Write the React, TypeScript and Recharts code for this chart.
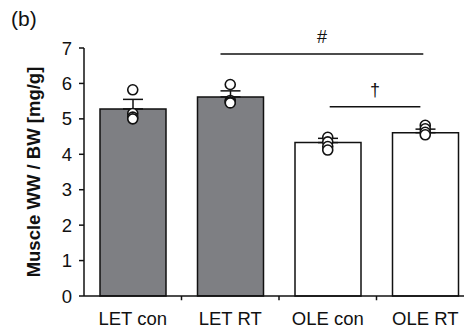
import React from 'react';
import {
  ComposedChart,
  Bar,
  Scatter,
  ErrorBar,
  XAxis,
  YAxis,
  ReferenceLine,
} from 'recharts';

const groups = ['LET con', 'LET RT', 'OLE con', 'OLE RT'];
const groupPos = [0.5, 1.5, 2.5, 3.5];
const means = [5.28, 5.62, 4.33, 4.61];
const errors = [0.27, 0.17, 0.12, 0.1];
const points1 = [5.82, 5.97, 4.48, 4.82];
const points2 = [5.15, 5.52, 4.35, 4.72];
const points3 = [5.05, 5.48, 4.22, 4.62];
const points4 = [5.0, 5.45, 4.12, 4.55];
const barColors = ['#7e7f83', '#7e7f83', '#ffffff', '#ffffff'];
const yTicks = [0, 1, 2, 3, 4, 5, 6, 7];
const groupEdges = [1, 2, 3];

const data = groups.map((name, i) => ({
  name,
  x: groupPos[i],
  mean: means[i],
  err: [0, errors[i]],
  p1: points1[i],
  p2: points2[i],
  p3: points3[i],
  p4: points4[i],
  fill: barColors[i],
}));

const FONT = '"Liberation Sans", Arial, sans-serif';
const FS = 18.5;

const Dot = (props: any) => {
  const { cx, cy } = props;
  if (cx == null || cy == null) return null;
  return <circle cx={cx} cy={cy} r={5} fill="#ffffff" stroke="#111111" strokeWidth={1.6} />;
};

export default function App() {
  return (
    <div style={{ position: 'relative', width: 464, height: 327, overflow: 'hidden', fontFamily: FONT }}>
      <div style={{ position: 'absolute', left: 3, top: 0, fontSize: 21, lineHeight: 1, color: '#111' }}>(b)</div>
      <ComposedChart
        width={470}
        height={327}
        data={data}
        margin={{ top: 40, right: 4, bottom: 9, left: 8 }}
      >
        <XAxis
          dataKey="x"
          type="number"
          domain={[0, 4]}
          ticks={groupPos}
          tickFormatter={(v: number) => groups[groupPos.indexOf(v)] ?? ''}
          tickLine={false}
          tickSize={0}
          tickMargin={16}
          axisLine={{ stroke: '#111', strokeWidth: 1.5 }}
          tick={{ fill: '#111', fontSize: FS, fontFamily: FONT }}
          interval={0}
          allowDataOverflow
        />
        <YAxis
          width={68}
          domain={[0, 7]}
          ticks={yTicks}
          interval={0}
          tickSize={5}
          tickMargin={7}
          axisLine={{ stroke: '#111', strokeWidth: 1.5 }}
          tickLine={{ stroke: '#111', strokeWidth: 1.5 }}
          tick={{ fill: '#111', fontSize: FS, fontFamily: FONT }}
          label={{
            value: 'Muscle WW / BW [mg/g]',
            angle: -90,
            position: 'insideLeft',
            offset: 17,
            style: { textAnchor: 'middle', fontWeight: 'bold', fontSize: FS, fill: '#111', fontFamily: FONT },
          }}
        />
        <Bar dataKey="mean" barSize={66} stroke="#111" strokeWidth={1.5} isAnimationActive={false}>
          <ErrorBar dataKey="err" width={10} stroke="#111" strokeWidth={1.5} direction="y" />
        </Bar>
        <Scatter dataKey="p1" shape={<Dot />} isAnimationActive={false} />
        <Scatter dataKey="p2" shape={<Dot />} isAnimationActive={false} />
        <Scatter dataKey="p3" shape={<Dot />} isAnimationActive={false} />
        <Scatter dataKey="p4" shape={<Dot />} isAnimationActive={false} />
        {groupEdges.map((e) => (
          <ReferenceLine
            key={e}
            segment={[{ x: e, y: 0 }, { x: e, y: -0.12 }]}
            stroke="#111"
            strokeWidth={1.5}
            ifOverflow="visible"
          />
        ))}
        <ReferenceLine
          segment={[{ x: 1.4, y: 6.83 }, { x: 3.48, y: 6.83 }]}
          stroke="#111"
          strokeWidth={1.5}
          ifOverflow="visible"
          label={{ value: '#', position: 'top', offset: 11, fontSize: 18, fill: '#111', fontFamily: FONT }}
        />
        <ReferenceLine
          segment={[{ x: 2.52, y: 5.34 }, { x: 3.45, y: 5.34 }]}
          stroke="#111"
          strokeWidth={1.5}
          ifOverflow="visible"
          label={{ value: '†', position: 'top', offset: 11, fontSize: 18, fill: '#111', fontFamily: FONT }}
        />
      </ComposedChart>
    </div>
  );
}
